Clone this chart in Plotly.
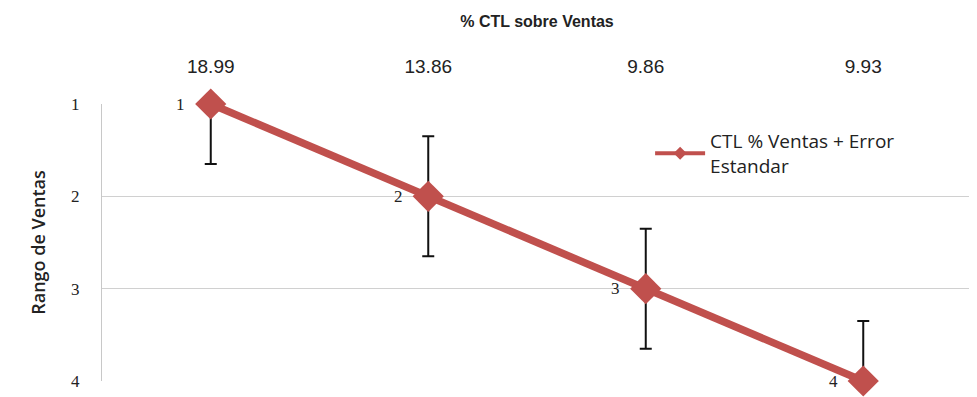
import plotly.graph_objects as go

categories = ["18.99", "13.86", "9.86", "9.93"]
rank = [1, 2, 3, 4]
labels = ["1", "2", "3", "4"]
err_down = [0.65, 0.65, 0.65, 0.0]
err_up = [0.0, 0.65, 0.65, 0.65]

red = "#C0504D"
font = "Liberation Sans Narrow, Arial Narrow, sans-serif"

fig = go.Figure()
fig.add_trace(go.Scatter(
    x=categories, y=rank, mode="lines+markers",
    showlegend=False,
    line=dict(color=red, width=7.5),
    marker=dict(symbol="diamond", size=24, color=red),
    error_y=dict(type="data", symmetric=False, array=err_down, arrayminus=err_up,
                 color="#111", thickness=2, width=6),
    cliponaxis=False,
))
# legend entry with a smaller swatch
fig.add_trace(go.Scatter(
    x=[None], y=[None], mode="lines+markers",
    name="CTL % Ventas + Error<br>Estandar",
    line=dict(color=red, width=4),
    marker=dict(symbol="diamond", size=10, color=red),
))
for i, (r, t) in enumerate(zip(rank, labels)):
    fig.add_annotation(x=i, y=r, xref="x", yref="y", text=t, showarrow=False,
                       xshift=-30, yshift=0,
                       font=dict(family="Liberation Serif, serif", size=17, color="#222"))

fig.update_layout(
    width=977, height=397,
    margin=dict(l=94, r=13, t=96, b=24),
    paper_bgcolor="white", plot_bgcolor="white",
    font=dict(family=font, size=15, color="#222"),
    showlegend=True,
    legend=dict(x=0.63, y=0.935, xanchor="left", yanchor="top",
                font=dict(family="Open Sans, sans-serif", size=19, color="#222"),
                bgcolor="rgba(0,0,0,0)", itemwidth=50),
)
fig.update_xaxes(
    type="category", side="top", showgrid=False, zeroline=False,
    showline=False, ticks="", ticklabelstandoff=26, automargin=False,
    tickfont=dict(family=font, size=19, color="#222"),
    title=dict(text="<b>% CTL sobre Ventas</b>", standoff=24,
               font=dict(family=font, size=16, color="#222")),
    range=[-0.5, 3.5],
)
fig.update_yaxes(
    range=[4, 1], tickvals=[1, 2, 3, 4], showgrid=True, gridcolor="#D0D0D0",
    gridwidth=1, zeroline=False, showline=True, linecolor="#C8C8C8",
    ticks="", ticklabelstandoff=18, automargin=False,
    tickfont=dict(family="Liberation Serif, serif", size=17, color="#222"),
    title=dict(text="Rango de Ventas", standoff=20,
               font=dict(family="Open Sans, sans-serif", size=18, weight=600, color="#222")),
)

fig.write_html("out.html")
